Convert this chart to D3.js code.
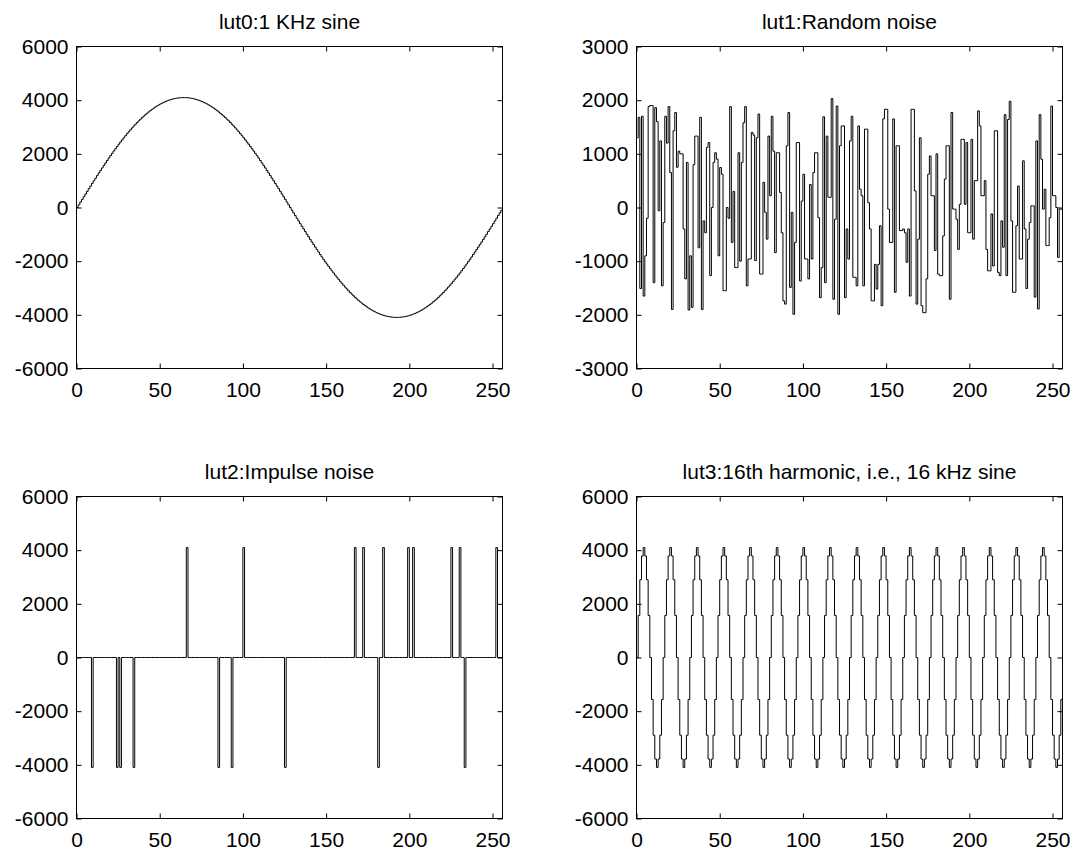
<!DOCTYPE html>
<html>
<head>
<meta charset="utf-8">
<script src="https://cdn.jsdelivr.net/npm/d3@7"></script>
<style>
  body { margin: 0; background: #fff; }
</style>
</head>
<body>
<script>
// panel titles
let titles = ["lut0:1 KHz sine", "lut1:Random noise", "lut2:Impulse noise", "lut3:16th harmonic, i.e., 16 kHz sine"];

// tick values
let xTicks = [0, 50, 100, 150, 200, 250];
let yTicksWide = [-6000, -4000, -2000, 0, 2000, 4000, 6000];
let yTicksNoise = [-3000, -2000, -1000, 0, 1000, 2000, 3000];

// lut0: one period of the sine, 256 samples
let lut0 = [
  0, 101, 201, 301, 401, 501, 601, 700, 799, 897, 995, 1092, 1189, 1285, 1380, 1474,
  1567, 1660, 1751, 1842, 1931, 2019, 2106, 2191, 2276, 2359, 2440, 2520, 2598, 2675, 2751, 2824,
  2896, 2967, 3035, 3102, 3166, 3229, 3290, 3349, 3406, 3461, 3513, 3564, 3612, 3659, 3703, 3745,
  3784, 3822, 3857, 3889, 3920, 3948, 3973, 3996, 4017, 4036, 4052, 4065, 4076, 4085, 4091, 4095,
  4096, 4095, 4091, 4085, 4076, 4065, 4052, 4036, 4017, 3996, 3973, 3948, 3920, 3889, 3857, 3822,
  3784, 3745, 3703, 3659, 3612, 3564, 3513, 3461, 3406, 3349, 3290, 3229, 3166, 3102, 3035, 2967,
  2896, 2824, 2751, 2675, 2598, 2520, 2440, 2359, 2276, 2191, 2106, 2019, 1931, 1842, 1751, 1660,
  1567, 1474, 1380, 1285, 1189, 1092, 995, 897, 799, 700, 601, 501, 401, 301, 201, 101,
  0, -101, -201, -301, -401, -501, -601, -700, -799, -897, -995, -1092, -1189, -1285, -1380, -1474,
  -1567, -1660, -1751, -1842, -1931, -2019, -2106, -2191, -2276, -2359, -2440, -2520, -2598, -2675, -2751, -2824,
  -2896, -2967, -3035, -3102, -3166, -3229, -3290, -3349, -3406, -3461, -3513, -3564, -3612, -3659, -3703, -3745,
  -3784, -3822, -3857, -3889, -3920, -3948, -3973, -3996, -4017, -4036, -4052, -4065, -4076, -4085, -4091, -4095,
  -4096, -4095, -4091, -4085, -4076, -4065, -4052, -4036, -4017, -3996, -3973, -3948, -3920, -3889, -3857, -3822,
  -3784, -3745, -3703, -3659, -3612, -3564, -3513, -3461, -3406, -3349, -3290, -3229, -3166, -3102, -3035, -2967,
  -2896, -2824, -2751, -2675, -2598, -2520, -2440, -2359, -2276, -2191, -2106, -2019, -1931, -1842, -1751, -1660,
  -1567, -1474, -1380, -1285, -1189, -1092, -995, -897, -799, -700, -601, -501, -401, -301, -201, -101
];

// lut1: random noise
let lut1 = [
  1300, 1680, -1510, 1700, -1650, -900, -200, 1880,
  1900, 1900, -1400, 1860, 1600, -60, 1240, -1460,
  -280, 1700, 1200, 1880, 650, -1900, 1430, 1770,
  750, 1050, 1000, 1000, -400, -1330, 840, -1910,
  -900, -1860, 800, 1330, 1330, -750, 1680, -1900,
  -250, -470, 1120, 1210, -1270, 0, 840, 1020,
  900, -900, 745, 620, -1550, -1550, 0, -200,
  1880, -650, 300, -1120, -1120, 1020, -1000, 840,
  1580, 1880, -1460, -960, -960, 1400, 1350, -990,
  1300, 1740, -1240, -1240, 470, -90, -590, 1330,
  220, 1700, 1050, -840, 1020, 1020, 280, -470,
  -1740, -1800, 1150, 1770, -1490, -90, -1990, -650,
  1210, 1210, -1370, 120, 620, -960, -960, -1330,
  430, -960, 650, 1020, 1020, -190, -1680, -1120,
  1690, -1400, 1330, 190, 190, 2030, -1710, -220,
  1890, -1990, 1150, 1520, 1520, -1680, -400, -960,
  1240, 1700, -1300, -1300, -1460, 1520, 340, 220,
  -1460, 1460, 1460, 90, -400, -1740, -1740, -1060,
  -1520, -1060, -340, -1830, 1650, 1830, 1830, -30,
  -650, -650, 1650, -1580, 1150, 1150, -430, -430,
  -400, -470, -1020, -400, -1650,
  1830, 1830, 310, -1800, -590, 1300, -1830, -1960,
  -1960, -1330, 620, 960, 220, 220, -800, 1000,
  -1240, -1270, -1270, -530, 530, 1150, 1150, -1710,
  1770, -30, -30, -220, -780, 60, 1270, 1270,
  60, 1210, -470, -470, 1270, -590, 500, 500,
  1800, 1520, 220, 220, 500, -780, -1180, -1180,
  -120, -1090, 1430, 1430, -1210,
  -1270, -250, -740, 1730, -1270, 1640, 1980, -250,
  -1580, -1580, -340, 400, -960, -960, 870, -400,
  -1510, -590, -280, 30, 30, -1670, 1240, -1890,
  1730, 900, -30, 340, -710, -710, -190, 1890,
  220, 220, 0, -930, -30, -30
];

// lut2: impulse noise, zero except at these samples
let lut2Index = [9, 24, 26, 34, 66, 85, 93, 100, 125, 167, 172, 181, 184, 199, 202, 225, 230, 233, 252];
let lut2Value = [-4096, -4096, -4096, -4096, 4096, -4096, -4096, 4096, -4096, 4096, 4096, -4096, 4096, 4096, 4096, 4096, 4096, -4096, 4096];

// lut3: 16th harmonic
let lut3 = [
  0, 1567, 2896, 3784, 4096, 3784, 2896, 1567, 0, -1567, -2896, -3784, -4096, -3784, -2896, -1567,
  0, 1567, 2896, 3784, 4096, 3784, 2896, 1567, 0, -1567, -2896, -3784, -4096, -3784, -2896, -1567,
  0, 1567, 2896, 3784, 4096, 3784, 2896, 1567, 0, -1567, -2896, -3784, -4096, -3784, -2896, -1567,
  0, 1567, 2896, 3784, 4096, 3784, 2896, 1567, 0, -1567, -2896, -3784, -4096, -3784, -2896, -1567,
  0, 1567, 2896, 3784, 4096, 3784, 2896, 1567, 0, -1567, -2896, -3784, -4096, -3784, -2896, -1567,
  0, 1567, 2896, 3784, 4096, 3784, 2896, 1567, 0, -1567, -2896, -3784, -4096, -3784, -2896, -1567,
  0, 1567, 2896, 3784, 4096, 3784, 2896, 1567, 0, -1567, -2896, -3784, -4096, -3784, -2896, -1567,
  0, 1567, 2896, 3784, 4096, 3784, 2896, 1567, 0, -1567, -2896, -3784, -4096, -3784, -2896, -1567,
  0, 1567, 2896, 3784, 4096, 3784, 2896, 1567, 0, -1567, -2896, -3784, -4096, -3784, -2896, -1567,
  0, 1567, 2896, 3784, 4096, 3784, 2896, 1567, 0, -1567, -2896, -3784, -4096, -3784, -2896, -1567,
  0, 1567, 2896, 3784, 4096, 3784, 2896, 1567, 0, -1567, -2896, -3784, -4096, -3784, -2896, -1567,
  0, 1567, 2896, 3784, 4096, 3784, 2896, 1567, 0, -1567, -2896, -3784, -4096, -3784, -2896, -1567,
  0, 1567, 2896, 3784, 4096, 3784, 2896, 1567, 0, -1567, -2896, -3784, -4096, -3784, -2896, -1567,
  0, 1567, 2896, 3784, 4096, 3784, 2896, 1567, 0, -1567, -2896, -3784, -4096, -3784, -2896, -1567,
  0, 1567, 2896, 3784, 4096, 3784, 2896, 1567, 0, -1567, -2896, -3784, -4096, -3784, -2896, -1567,
  0, 1567, 2896, 3784, 4096, 3784, 2896, 1567, 0, -1567, -2896, -3784, -4096, -3784, -2896, -1567
];

// build the full impulse table from the spike list
let lut2 = new Array(256).fill(0);
lut2Index.forEach((k, i) => { lut2[k] = lut2Value[i]; });

let width = 1079;
let height = 852;
let fontFamily = "'Liberation Sans', Arial, Helvetica, sans-serif";
let fontSize = 21;

let plotW = 426;  // every axes box is the same size
let plotH = 322;

let panels = [
  { title: titles[0], values: lut0, yTicks: yTicksWide,  left: 76.5,  top: 46.5 },
  { title: titles[1], values: lut1, yTicks: yTicksNoise, left: 636.5, top: 46.5 },
  { title: titles[2], values: lut2, yTicks: yTicksWide,  left: 76.5,  top: 496.5 },
  { title: titles[3], values: lut3, yTicks: yTicksWide,  left: 636.5, top: 496.5 }
];

let svg = d3.select("body").append("svg")
  .attr("width", width)
  .attr("height", height)
  .style("background", "#fff");

panels.forEach(p => {
  let g = svg.append("g").attr("transform", "translate(" + p.left + "," + p.top + ")");

  let x = d3.scaleLinear().domain([0, 256]).range([0, plotW]);
  let y = d3.scaleLinear().domain(d3.extent(p.yTicks)).range([plotH, 0]);

  // stairs: each sample holds from i to i+1
  let pts = p.values.map((v, i) => [i, v]);
  pts.push([p.values.length, p.values[p.values.length - 1]]);

  let stairs = d3.line()
    .x(d => x(d[0]))
    .y(d => y(d[1]))
    .curve(d3.curveStepAfter);

  g.append("path")
    .datum(pts)
    .attr("fill", "none")
    .attr("stroke", "#000")
    .attr("stroke-width", 1)
    .attr("d", stairs);

  // matlab style: ticks pointing inwards on all four sides
  let styleAxis = sel => {
    sel.attr("font-family", fontFamily).attr("font-size", fontSize);
    sel.select(".domain").remove();
    sel.selectAll(".tick line").attr("stroke", "#000");
    sel.selectAll(".tick text").attr("fill", "#000");
  };

  g.append("g")
    .attr("transform", "translate(0," + plotH + ")")
    .call(d3.axisBottom(x).tickValues(xTicks).tickSizeInner(-5).tickSizeOuter(0).tickPadding(14))
    .call(styleAxis);

  g.append("g")
    .call(d3.axisTop(x).tickValues(xTicks).tickSizeInner(-5).tickSizeOuter(0).tickFormat(() => ""))
    .call(styleAxis);

  // plain hyphen for negatives, like the original
  g.append("g")
    .call(d3.axisLeft(y).tickValues(p.yTicks).tickSizeInner(-5).tickSizeOuter(0).tickPadding(8).tickFormat(d => String(d)))
    .call(styleAxis);

  g.append("g")
    .attr("transform", "translate(" + plotW + ",0)")
    .call(d3.axisRight(y).tickValues(p.yTicks).tickSizeInner(-5).tickSizeOuter(0).tickFormat(() => ""))
    .call(styleAxis);

  // axes box
  g.append("rect")
    .attr("x", 0)
    .attr("y", 0)
    .attr("width", plotW)
    .attr("height", plotH)
    .attr("fill", "none")
    .attr("stroke", "#000")
    .attr("stroke-width", 1);

  g.append("text")
    .attr("x", plotW / 2)
    .attr("y", -17.5)
    .attr("text-anchor", "middle")
    .attr("font-family", fontFamily)
    .attr("font-size", fontSize)
    .attr("fill", "#000")
    .text(p.title);
});
</script>
</body>
</html>
